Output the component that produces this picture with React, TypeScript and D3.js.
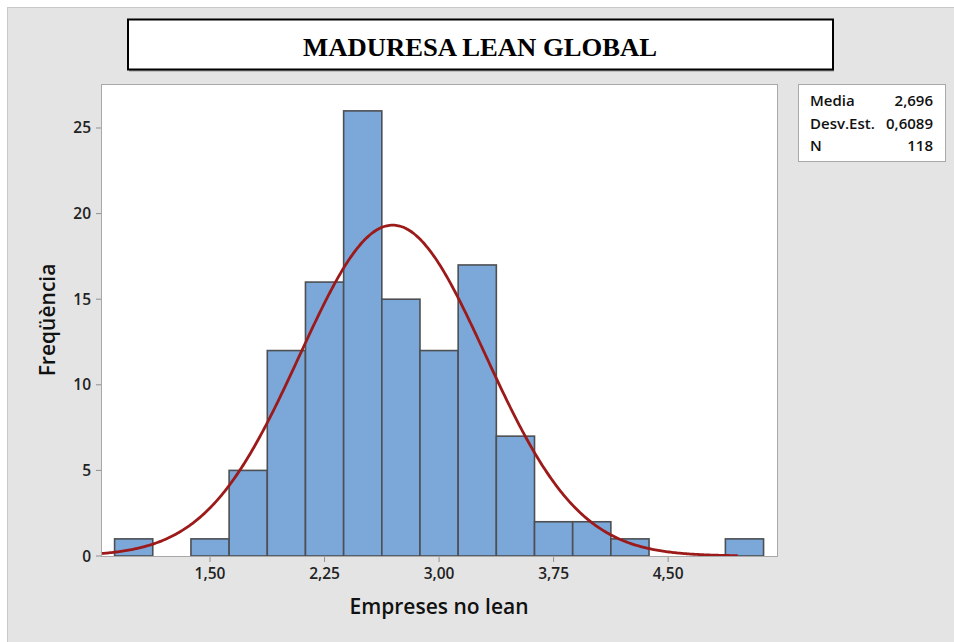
import React from "react";
import * as d3 from "d3";

// Histogram bins (centre values) and their frequencies
const binCenters = [1.0, 1.25, 1.5, 1.75, 2.0, 2.25, 2.5, 2.75, 3.0, 3.25, 3.5, 3.75, 4.0, 4.25, 4.5, 4.75, 5.0];
const binCounts = [1, 0, 1, 5, 12, 16, 26, 15, 12, 17, 7, 2, 2, 1, 0, 0, 1];
const binWidth = 0.25;

// Summary statistics shown in the side table
const mean = 2.696;
const stdDev = 0.6089;
const sampleSize = 118;
const statLabels = ["Media", "Desv.Est.", "N"];
const statValues = ["2,696", "0,6089", "118"];

const xTicks = [1.5, 2.25, 3.0, 3.75, 4.5];
const yTicks = [0, 5, 10, 15, 20, 25];

const title = "MADURESA LEAN GLOBAL";
const xTitle = "Empreses no lean";
const yTitle = "Freqüència";

const W = 954;
const H = 642;
const plot = { left: 101, right: 777, top: 84, bottom: 556 };
const sans = "'Open Sans', 'Noto Sans', sans-serif";

const fmt = (v: number) => v.toFixed(2).replace(".", ",");

export default function App() {
  const x = d3.scaleLinear().domain([0.786, 5.213]).range([plot.left, plot.right]);
  const y = d3.scaleLinear().domain([0, 27.57]).range([plot.bottom, plot.top]);

  // Fitted normal curve scaled to counts per bin
  const pdf = (v: number) =>
    (sampleSize * binWidth) / (stdDev * Math.sqrt(2 * Math.PI)) *
    Math.exp(-0.5 * ((v - mean) / stdDev) ** 2);
  const curveXs = d3.range(0.786, 4.96, 0.01);
  const line = d3
    .line<number>()
    .x((v) => x(v))
    .y((v) => y(pdf(v)))
    .curve(d3.curveBasis);

  return (
    <div style={{ position: "fixed", left: 0, top: 0, width: W, height: H, background: "#fff" }}>
      <svg width={W} height={H} style={{ display: "block" }}>
        <rect x={7.5} y={7.5} width={W} height={H} fill="#e4e4e4" stroke="#c8c8c8" strokeWidth={1} />

        {/* Title box */}
        <rect x={129} y={20.5} width={705} height={51} fill="#9a9a9a" />
        <rect x={128} y={19.5} width={705} height={50} fill="#fff" stroke="#000" strokeWidth={2} />
        <text
          x={480}
          y={56}
          textAnchor="middle"
          fontFamily="'Liberation Serif', 'Times New Roman', serif"
          fontWeight="bold"
          fontSize={26}
          textLength={354}
          lengthAdjust="spacingAndGlyphs"
          fill="#000"
        >
          {title}
        </text>

        {/* Plot area */}
        <rect
          x={plot.left + 0.5}
          y={plot.top + 0.5}
          width={plot.right - plot.left}
          height={plot.bottom - plot.top}
          fill="#fff"
          stroke="#a8a8a8"
          strokeWidth={1}
        />

        {/* Bars */}
        {binCenters.map((c, i) =>
          binCounts[i] > 0 ? (
            <rect
              key={i}
              x={x(c - binWidth / 2)}
              y={y(binCounts[i])}
              width={x(c + binWidth / 2) - x(c - binWidth / 2)}
              height={y(0) - y(binCounts[i])}
              fill="#7ba7d9"
              stroke="#4d4f52"
              strokeWidth={1.6}
            />
          ) : null
        )}

        {/* Normal fit */}
        <path d={line(curveXs) ?? ""} fill="none" stroke="#9c1a1a" strokeWidth={2.8} />

        {/* Axes */}
        <line x1={plot.left + 0.5} x2={plot.left + 0.5} y1={plot.top} y2={plot.bottom} stroke="#a8a8a8" />
        <line x1={plot.left} x2={plot.right} y1={plot.bottom + 0.5} y2={plot.bottom + 0.5} stroke="#a8a8a8" />
        {yTicks.map((t) => (
          <g key={t}>
            <line x1={96} x2={101} y1={y(t)} y2={y(t)} stroke="#909090" />
            <text x={91} y={y(t) + 5.5} textAnchor="end" fontFamily={sans} fontWeight={600} fontSize={15.5} fill="#222">
              {t}
            </text>
          </g>
        ))}
        {xTicks.map((t) => (
          <g key={t}>
            <line x1={x(t)} x2={x(t)} y1={557} y2={562} stroke="#909090" />
            <text x={x(t)} y={579} textAnchor="middle" fontFamily={sans} fontWeight={600} fontSize={15.5} fill="#222">
              {fmt(t)}
            </text>
          </g>
        ))}

        <text
          x={(plot.left + plot.right) / 2}
          y={614}
          textAnchor="middle"
          fontFamily={sans}
          fontWeight={600}
          fontSize={21}
          fill="#111"
        >
          {xTitle}
        </text>
        <text
          transform={`translate(55, ${(plot.top + plot.bottom) / 2}) rotate(-90)`}
          textAnchor="middle"
          fontFamily={sans}
          fontWeight={600}
          fontSize={21}
          fill="#111"
        >
          {yTitle}
        </text>

        {/* Statistics table */}
        <rect x={798.5} y={84.5} width={147} height={77} fill="#fff" stroke="#a8a8a8" />
        {statLabels.map((l, i) => (
          <g key={l}>
            <text x={810} y={106 + i * 22.5} fontFamily={sans} fontWeight={600} fontSize={15} fill="#111">
              {l}
            </text>
            <text x={933} y={106 + i * 22.5} textAnchor="end" fontFamily={sans} fontWeight={600} fontSize={15} fill="#111">
              {statValues[i]}
            </text>
          </g>
        ))}
      </svg>
    </div>
  );
}
